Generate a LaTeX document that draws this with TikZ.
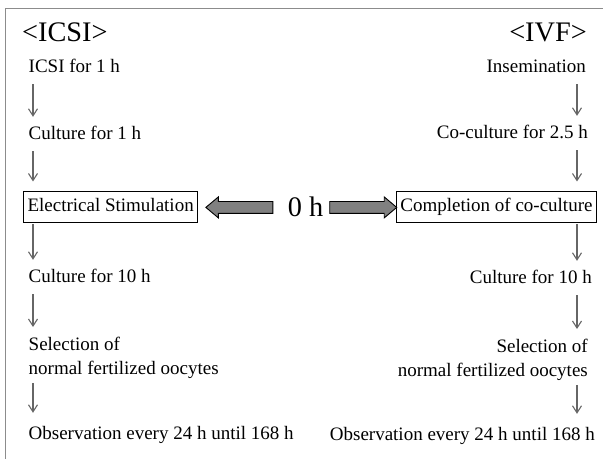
\documentclass[tikz,border=0pt]{standalone}
\usepackage{fontspec}
\setmainfont{Liberation Serif}
\usetikzlibrary{arrows.meta,positioning,shapes.arrows}

\begin{document}
\begin{tikzpicture}[
    x=1bp, y=-1bp,
    txt/.style={inner sep=0pt, text height=13bp, text depth=4bp, font=\fontsize{19bp}{23bp}\selectfont},
    twoline/.style={inner sep=0pt, align=#1, font=\fontsize{19bp}{24bp}\selectfont},
    head/.style={inner sep=0pt, font=\fontsize{28.3bp}{32bp}\selectfont},
    box/.style={txt, draw, line width=1bp, inner xsep=4bp, minimum height=31bp},
    flow/.style={-{Straight Barb[length=7bp,width=9bp]}, line width=1.1bp, draw=black!60, shorten <=7bp, shorten >=10bp},
    fatarrow/.style={single arrow, draw, line width=0.9bp, fill=black!50, minimum height=67bp, minimum width=0pt, inner xsep=0pt, inner ysep=5.5bp, single arrow head extend=4.5bp, single arrow tip angle=80},
    frame/.style={draw=black!45, line width=1bp}
  ]
  \useasboundingbox (0,0) rectangle (603,459);
  \draw[frame] (5,459) -- (5,9) -- (603,9);

  % ICSI column
  \node[head, anchor=base west] (icsi) at (22,42) {<ICSI>};
  \node[txt, anchor=base west] (icsi1) at (28.5,73) {ICSI for 1 h};
  \node[txt, anchor=base west] (cult1) at (28.5,140) {Culture for 1 h};
  \node[box, anchor=west] (elec) at (23,207.5) {Electrical Stimulation};
  \node[txt, anchor=base west] (cult10l) at (28.5,283) {Culture for 10 h};
  \node[twoline=left, anchor=north west] (sell) at (28.5,337) {Selection of\\normal fertilized oocytes};
  \node[txt, anchor=base west] (obsl) at (28.5,439) {Observation every 24 h until 168 h};

  % IVF column
  \node[head, anchor=base east] (ivf) at (587,42) {<IVF>};
  \node[txt, anchor=base east] (insem) at (586,73) {Insemination};
  \node[txt, anchor=base east] (cocult) at (588,139) {Co-culture for 2.5 h};
  \node[box, anchor=east] (comp) at (597,207.5) {Completion of co-culture};
  \node[txt, anchor=base east] (cult10r) at (592,284) {Culture for 10 h};
  \node[twoline=right, anchor=north east] (selr) at (588,339) {Selection of\\normal fertilized oocytes};
  \node[txt, anchor=base east] (obsr) at (595,440) {Observation every 24 h until 168 h};

  % Time zero
  \node[head, anchor=base] (zero) at (305.5,217) {0 h};
  \path (zero.west) -- (elec.east) node[fatarrow, midway, shape border rotate=180] (larr) {};
  \path (zero.east) -- (comp.west) node[fatarrow, midway] (rarr) {};

  % Arrows
  \coordinate (lcol) at (33,0);
  \coordinate (rcol) at (577,0);
  \draw[flow] (icsi1.south -| lcol) -- (cult1.north -| lcol);
  \draw[flow] (cult1.south -| lcol) -- (elec.north -| lcol);
  \draw[flow, shorten <=1bp] (elec.south -| lcol) -- (cult10l.north -| lcol);
  \draw[flow] (cult10l.south -| lcol) -- (sell.north -| lcol);
  \draw[flow, shorten <=4bp, shorten >=13bp] (sell.south -| lcol) -- (obsl.north -| lcol);
  \draw[flow] (insem.south -| rcol) -- (cocult.north -| rcol);
  \draw[flow] (cocult.south -| rcol) -- (comp.north -| rcol);
  \draw[flow, shorten <=1bp] (comp.south -| rcol) -- (cult10r.north -| rcol);
  \draw[flow] (cult10r.south -| rcol) -- (selr.north -| rcol);
  \draw[flow, shorten <=4bp, shorten >=13bp] (selr.south -| rcol) -- (obsr.north -| rcol);
\end{tikzpicture}
\end{document}
